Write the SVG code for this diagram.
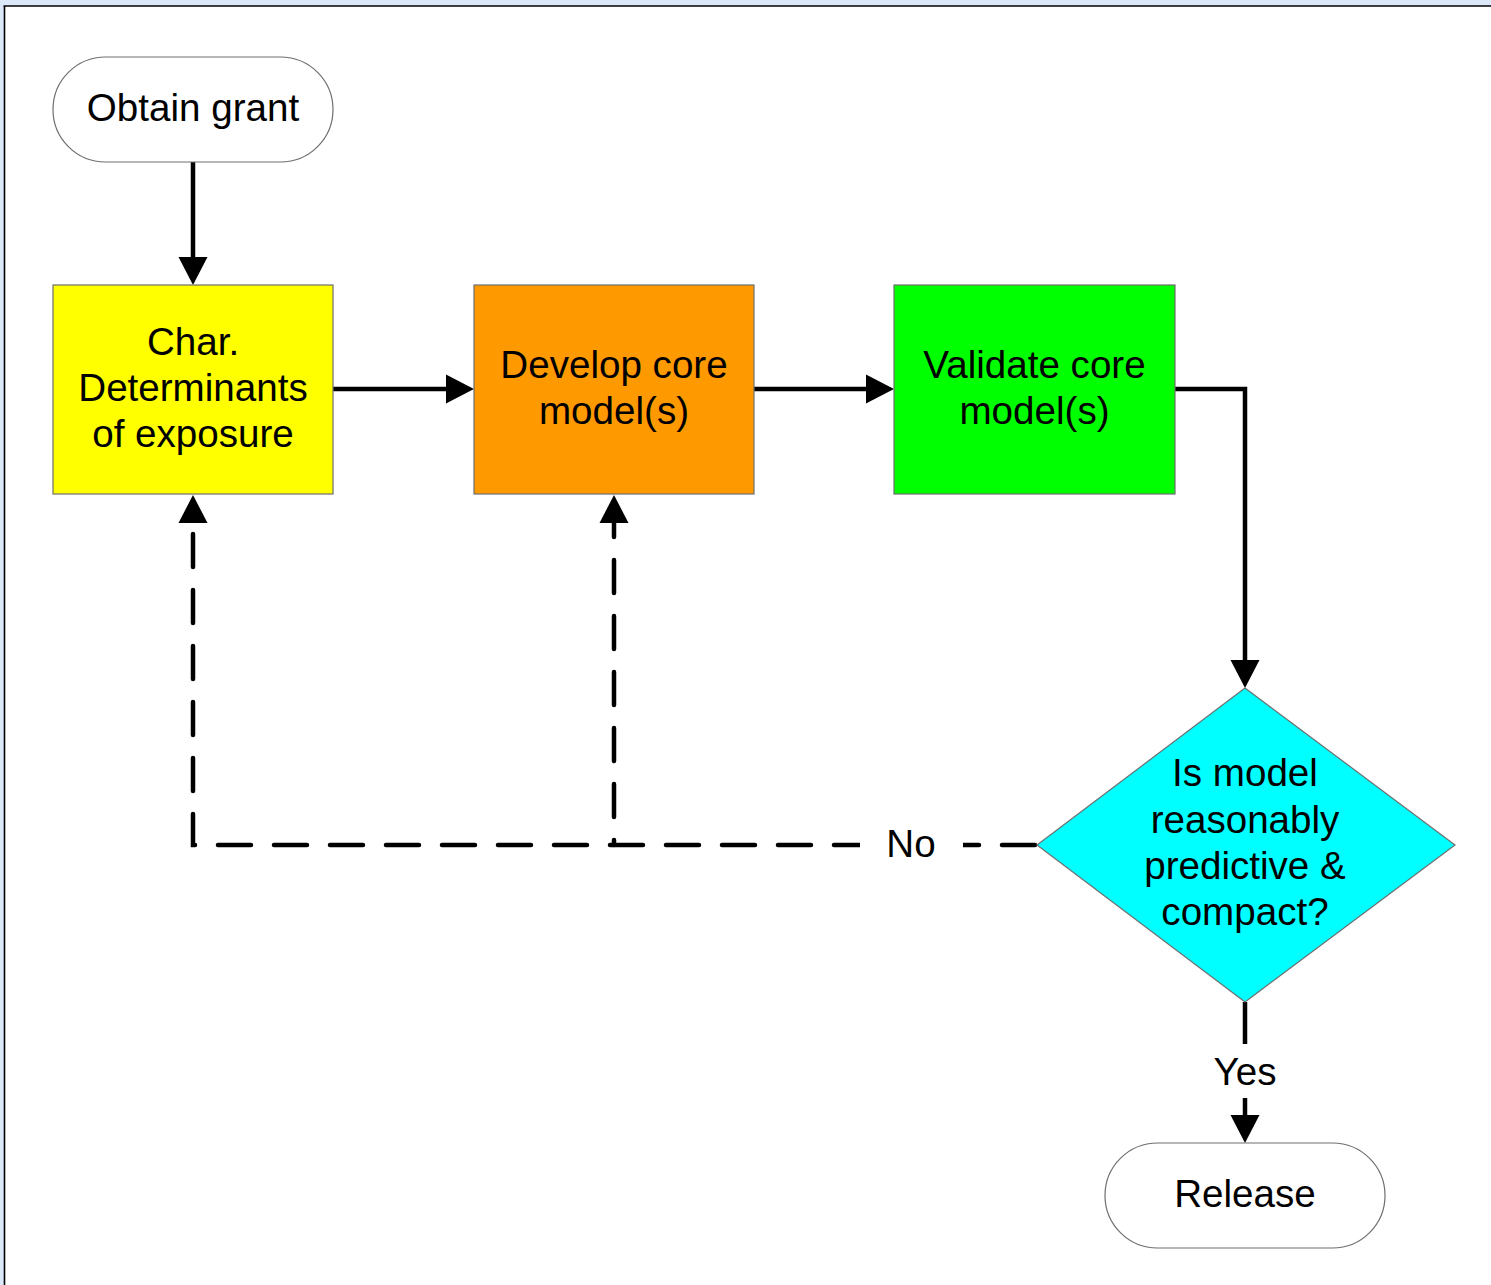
<svg xmlns="http://www.w3.org/2000/svg" width="1491" height="1285" viewBox="0 0 1491 1285">
<style>
  .lbl{font-family:"Liberation Sans",Arial,sans-serif;font-size:38.6px;fill:#000;text-anchor:middle}
  .shape{stroke:#6e6e6e;stroke-width:1.2}
  .conn{fill:none;stroke:#000;stroke-width:4.5;stroke-linejoin:miter}
  .dash{fill:none;stroke:#000;stroke-width:4.5;stroke-linecap:round;stroke-dasharray:33 23}
</style>
<defs>
  <marker id="arr" markerUnits="userSpaceOnUse" markerWidth="32" markerHeight="32" refX="0" refY="14.5" orient="auto" overflow="visible">
    <path d="M0,0 L28,14.5 L0,29 z" fill="#000"/>
  </marker>
</defs>
<rect x="0" y="0" width="1491" height="1285" fill="#fff"/>
<g id="frame">
  <rect x="0" y="0" width="1491" height="6" fill="#dbe8f9"/>
  <rect x="0" y="0" width="4" height="1285" fill="#dbe8f9"/>
  <line x1="3.5" y1="6" x2="1491" y2="6" stroke="#000" stroke-width="1.6"/>
  <line x1="4.5" y1="6" x2="4.5" y2="1285" stroke="#000" stroke-width="1.6"/>
</g>
<g id="connectors">
  <path class="conn" d="M193,162 V257" marker-end="url(#arr)"/>
  <path class="conn" d="M333,389 H446" marker-end="url(#arr)"/>
  <path class="conn" d="M754,389 H866" marker-end="url(#arr)"/>
  <path class="conn" d="M1175,389 H1245 V660" marker-end="url(#arr)"/>
  <path class="conn" d="M1245,1002 V1115" marker-end="url(#arr)"/>
  <path class="dash" d="M1035,845 H193 V523" marker-end="url(#arr)"/>
  <path class="dash" style="stroke-dashoffset:28" d="M614,845 V523" marker-end="url(#arr)"/>
  <g id="label-no">
    <rect x="860" y="818" width="103" height="52" fill="#fff"/>
    <text class="lbl" x="911" y="857">No</text>
  </g>
  <g id="label-yes">
    <rect x="1200" y="1044" width="90" height="54" fill="#fff"/>
    <text class="lbl" x="1245" y="1085">Yes</text>
  </g>
</g>
<g id="obtain-grant">
  <rect class="shape" x="53" y="57" width="280" height="105" rx="52.5" ry="52.5" fill="#fff"/>
  <text class="lbl" x="193" y="121">Obtain grant</text>
</g>
<g id="char-determinants">
  <rect class="shape" x="53" y="285" width="280" height="209" fill="#ffff00"/>
  <text class="lbl" x="193" y="355">Char.</text>
  <text class="lbl" x="193" y="401">Determinants</text>
  <text class="lbl" x="193" y="447">of exposure</text>
</g>
<g id="develop-core">
  <rect class="shape" x="474" y="285" width="280" height="209" fill="#ff9900"/>
  <text class="lbl" x="614" y="378">Develop core</text>
  <text class="lbl" x="614" y="424">model(s)</text>
</g>
<g id="validate-core">
  <rect class="shape" x="894" y="285" width="281" height="209" fill="#00ff00"/>
  <text class="lbl" x="1034.5" y="378">Validate core</text>
  <text class="lbl" x="1034.5" y="424">model(s)</text>
</g>
<g id="decision">
  <polygon class="shape" points="1245,688 1455,845 1245,1002 1037,845" fill="#00ffff"/>
  <text class="lbl" x="1245" y="786">Is model</text>
  <text class="lbl" x="1245" y="833">reasonably</text>
  <text class="lbl" x="1245" y="879">predictive &amp;</text>
  <text class="lbl" x="1245" y="925">compact?</text>
</g>
<g id="release">
  <rect class="shape" x="1105" y="1143" width="280" height="105" rx="52.5" ry="52.5" fill="#fff"/>
  <text class="lbl" x="1245" y="1207">Release</text>
</g>
</svg>
